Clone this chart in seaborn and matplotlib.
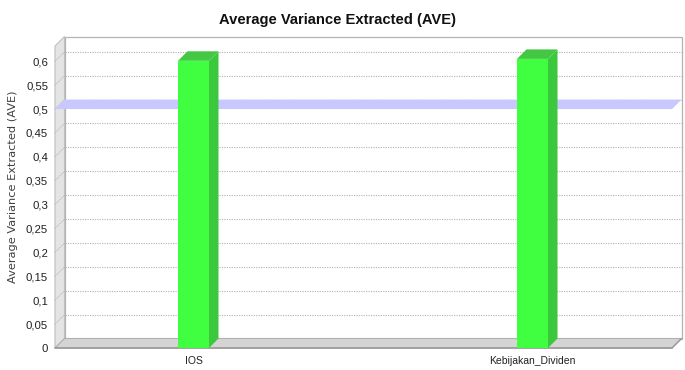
import matplotlib
matplotlib.use("Agg")
import matplotlib.pyplot as plt
from matplotlib.patches import Polygon
import seaborn as sns
import pandas as pd

# Data
constructs = ["IOS", "Kebijakan_Dividen"]
ave_values = [0.601, 0.605]
threshold = 0.5
y_ticks = [0.0, 0.05, 0.1, 0.15, 0.2, 0.25, 0.3, 0.35, 0.4, 0.45, 0.5, 0.55, 0.6]
title = "Average Variance Extracted (AVE)"
y_label = "Average Variance Extracted (AVE)"

sns.set_theme(style="white")
plt.rcParams["font.family"] = ["Liberation Sans", "DejaVu Sans"]

W, H, DPI = 685, 370, 100
fig = plt.figure(figsize=(W / DPI, H / DPI), dpi=DPI)

# front plane of the 3D box, in pixels
left_px, right_px, bottom_px, top_px = 55, 672, 348, 46
ax = fig.add_axes([left_px / W, 1 - bottom_px / H,
                   (right_px - left_px) / W, (bottom_px - top_px) / H])

x_lo, x_hi = -0.4086, 1.4115
y_lo, y_hi = 0.0, 0.632
ax.set_xlim(x_lo, x_hi)
ax.set_ylim(y_lo, y_hi)

# depth offset (pixels) converted to data units
depth_px = 9.5
ddx = depth_px * (x_hi - x_lo) / (right_px - left_px)
ddy = depth_px * (y_hi - y_lo) / (bottom_px - top_px)

df = pd.DataFrame({"construct": constructs, "ave": ave_values})
bar_w = 31 * (x_hi - x_lo) / (right_px - left_px)
sns.barplot(data=df, x="construct", y="ave", color="#40ff40", saturation=1,
            width=bar_w, ax=ax, zorder=5, edgecolor="none")
ax.set_xlim(x_lo, x_hi)
ax.set_ylim(y_lo, y_hi)


def poly(pts, **kw):
    p = Polygon(pts, closed=True, clip_on=False, **kw)
    ax.add_patch(p)
    return p


# back wall
poly([(x_lo + ddx, ddy), (x_hi + ddx, ddy), (x_hi + ddx, y_hi + ddy), (x_lo + ddx, y_hi + ddy)],
     facecolor="white", edgecolor="#b4b4b4", linewidth=0.9, zorder=0)
# left wall
poly([(x_lo, 0), (x_lo, y_hi), (x_lo + ddx, y_hi + ddy), (x_lo + ddx, ddy)],
     facecolor="#e4e4e4", edgecolor="#c0c0c0", linewidth=0.8, zorder=1)
# floor
poly([(x_lo, 0), (x_hi, 0), (x_hi + ddx, ddy), (x_lo + ddx, ddy)],
     facecolor="#d4d4d4", edgecolor="#b0b0b0", linewidth=0.8, zorder=1)
ax.plot([x_lo, x_hi], [0, 0], color="#9a9a9a", linewidth=1.2, zorder=2, clip_on=False)
ax.plot([x_hi, x_hi + ddx], [0, ddy], color="#9a9a9a", linewidth=1.0, zorder=2, clip_on=False)

# dotted grid on back wall and left wall
for v in y_ticks[1:]:
    ax.plot([x_lo + ddx, x_hi + ddx], [v + ddy, v + ddy], color="#b0b0b0",
            linewidth=0.8, linestyle=(0, (1, 1.2)), zorder=1.5, clip_on=False)
    ax.plot([x_lo, x_lo + ddx], [v, v + ddy], color="#b8b8b8",
            linewidth=0.8, linestyle=(0, (1, 1)), zorder=1.5, clip_on=False)

# threshold plane at 0.5
poly([(x_lo, threshold), (x_hi, threshold), (x_hi + ddx, threshold + ddy), (x_lo + ddx, threshold + ddy)],
     facecolor="#c8c8ff", edgecolor="none", zorder=3)

# 3D side and top faces for each bar
for p in ax.patches[:len(constructs)]:
    x0 = p.get_x()
    w = p.get_width()
    h = p.get_height()
    poly([(x0 + w, 0), (x0 + w, h), (x0 + w + ddx, h + ddy), (x0 + w + ddx, ddy)],
         facecolor="#3cc83c", edgecolor="none", zorder=4)
    poly([(x0, h), (x0 + w, h), (x0 + w + ddx, h + ddy), (x0 + ddx, h + ddy)],
         facecolor="#44c844", edgecolor="none", zorder=4)

ax.set_yticks(y_ticks)
ax.set_yticklabels([("%g" % v).replace(".", ",") for v in y_ticks], fontsize=8.2, color="#202020")
ax.set_xticks(range(len(constructs)))
ax.set_xticklabels(constructs, fontsize=7.5, color="#202020")
ax.tick_params(axis="y", length=0, pad=5)
ax.tick_params(axis="x", length=0, pad=6)
ax.set_xlabel("")
ax.set_ylabel(y_label, fontsize=8.2, color="#404040", family=["DejaVu Sans"])
ax.yaxis.set_label_coords(-0.06, 0.533)
for s in ax.spines.values():
    s.set_visible(False)
ax.patch.set_visible(False)

fig.text(0.492, 1 - 20 / H, title, ha="center", va="center", fontsize=10.6,
         fontweight="bold", color="#111111")

fig.savefig("out.png", dpi=DPI, facecolor="white")
